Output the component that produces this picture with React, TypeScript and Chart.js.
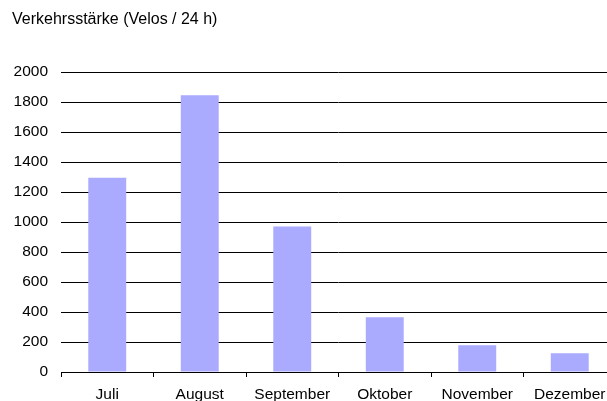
import React, { useEffect, useRef } from "react";
import { Chart, registerables } from "chart.js";

Chart.register(...registerables);

const categories = ["Juli", "August", "September", "Oktober", "November", "Dezember"];
const values = [1295, 1845, 970, 365, 178, 125];
const yTicks = [0, 200, 400, 600, 800, 1000, 1200, 1400, 1600, 1800, 2000];
const titleText = "Verkehrsstärke (Velos / 24 h)";

const FONT = "'Liberation Sans', Arial, Helvetica, sans-serif";

export default function App() {
  const ref = useRef<HTMLCanvasElement | null>(null);

  useEffect(() => {
    document.body.style.margin = "0";
    document.body.style.overflow = "hidden";
    const canvas = ref.current;
    if (!canvas) return;

    const titlePlugin = {
      id: "customTitle",
      afterDraw(chart: any) {
        const ctx = chart.ctx;
        ctx.save();
        ctx.font = `16px ${FONT}`;
        ctx.fillStyle = "#000";
        ctx.textAlign = "left";
        ctx.textBaseline = "alphabetic";
        ctx.fillText(titleText, 12, 23.5);
        ctx.restore();
      },
    };

    const chart = new Chart(canvas, {
      type: "bar",
      data: {
        labels: categories,
        datasets: [
          {
            data: values,
            backgroundColor: "#aaaaff",
            borderWidth: 0,
            barPercentage: 0.41,
            categoryPercentage: 1,
          },
        ],
      },
      options: {
        responsive: false,
        animation: false,
        devicePixelRatio: 1,
        layout: { padding: { top: 72, left: 0, right: 0, bottom: 0 } },
        plugins: {
          legend: { display: false },
          title: { display: false },
          tooltip: { enabled: false },
        },
        scales: {
          x: {
            type: "category",
            afterFit(scale: any) {
              scale.height = 29;
            },
            grid: {
              display: true,
              drawOnChartArea: false,
              drawTicks: true,
              tickLength: 5,
              color: "#000",
              offset: true,
            },
            border: { display: true, color: "#000", width: 1 },
            ticks: {
              color: "#000",
              font: { family: FONT, size: 15.5 },
              padding: 8,
              maxRotation: 0,
              autoSkip: false,
            },
          },
          y: {
            min: 0,
            max: 2000,
            afterFit(scale: any) {
              scale.width = 61;
            },
            afterBuildTicks(scale: any) {
              scale.ticks = yTicks.map((v) => ({ value: v }));
            },
            grid: {
              display: true,
              drawTicks: false,
              color: "#000",
              lineWidth: 1,
            },
            border: { display: false },
            ticks: {
              color: "#000",
              font: { family: FONT, size: 15.5 },
              padding: 13,
              callback: (v: any) => String(v),
            },
          },
        },
      },
      plugins: [titlePlugin],
    });

    return () => {
      chart.destroy();
    };
  }, []);

  return (
    <div style={{ position: "relative", width: 607, height: 401, overflow: "hidden" }}>
      <canvas ref={ref} width={616} height={401} style={{ display: "block", width: 616, height: 401 }} />
    </div>
  );
}
